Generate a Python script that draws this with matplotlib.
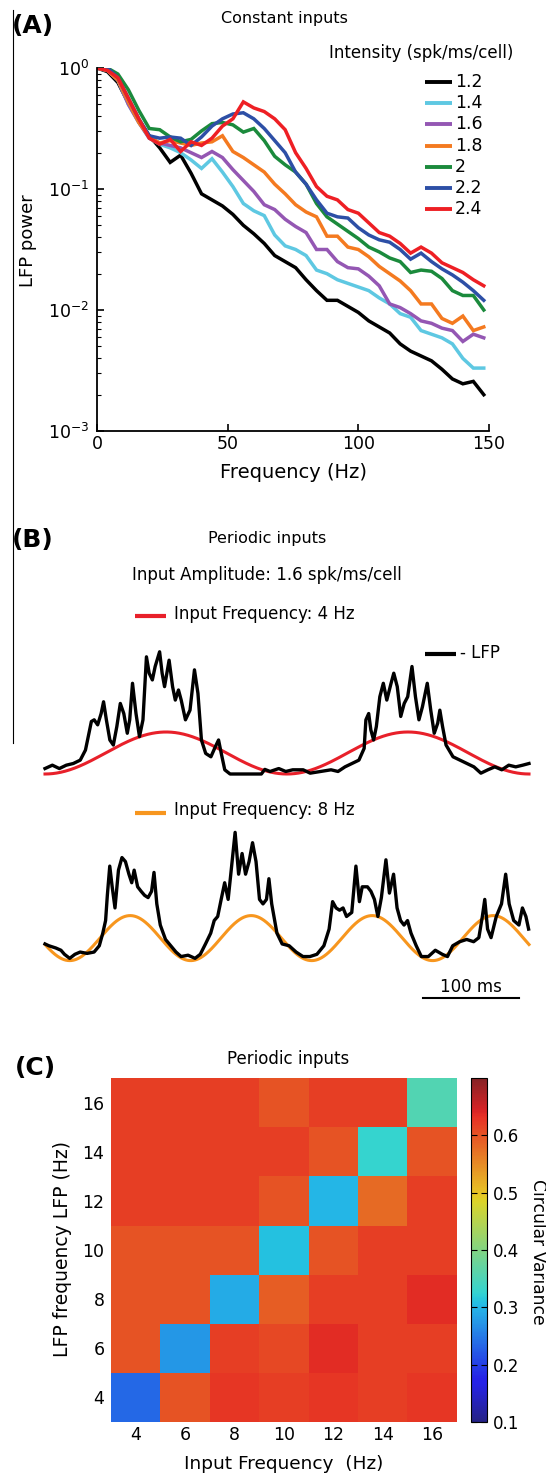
import numpy as np
import matplotlib
matplotlib.use("Agg")
import matplotlib.pyplot as plt
from matplotlib.lines import Line2D
from matplotlib.colors import ListedColormap

plt.rcParams['font.family'] = ['DejaVu Sans']
plt.rcParams['mathtext.fontset'] = 'dejavusans'

# ---------------- data ----------------
# (A) LFP power spectrum for constant inputs, log10 of normalised power
freq_hz = np.arange(0, 149, 4)
intensities = ['1.2', '1.4', '1.6', '1.8', '2', '2.2', '2.4']
spec_colors = ['#000000', '#5ec8e2', '#9457b3', '#f47a20', '#1b8a3c', '#2d4fa6', '#ee1f24']

logp_12 = [0.0, -0.03, -0.12, -0.29, -0.43, -0.56, -0.66, -0.78, -0.72, -0.87,
           -1.04, -1.09, -1.14, -1.21, -1.30, -1.37, -1.45, -1.55, -1.60, -1.65,
           -1.75, -1.84, -1.92, -1.92, -1.97, -2.02, -2.09, -2.14, -2.19, -2.28,
           -2.34, -2.38, -2.42, -2.49, -2.57, -2.61, -2.59, -2.70]
logp_14 = [0.0, -0.02, -0.10, -0.30, -0.45, -0.58, -0.63, -0.66, -0.70, -0.76,
           -0.83, -0.75, -0.86, -0.98, -1.12, -1.18, -1.22, -1.38, -1.47, -1.50,
           -1.55, -1.67, -1.70, -1.75, -1.78, -1.81, -1.84, -1.90, -1.95, -2.03,
           -2.06, -2.17, -2.20, -2.23, -2.28, -2.40, -2.48, -2.48]
logp_16 = [0.0, -0.02, -0.10, -0.30, -0.45, -0.58, -0.62, -0.64, -0.66, -0.70,
           -0.74, -0.69, -0.74, -0.84, -0.93, -1.02, -1.13, -1.17, -1.25, -1.31,
           -1.36, -1.50, -1.50, -1.60, -1.65, -1.66, -1.72, -1.80, -1.95, -1.98,
           -2.03, -2.09, -2.11, -2.15, -2.17, -2.26, -2.20, -2.23]
logp_18 = [0.0, -0.02, -0.10, -0.28, -0.45, -0.57, -0.62, -0.60, -0.62, -0.64,
           -0.62, -0.61, -0.56, -0.69, -0.74, -0.80, -0.86, -0.96, -1.04, -1.13,
           -1.19, -1.23, -1.39, -1.39, -1.48, -1.50, -1.56, -1.64, -1.70, -1.76,
           -1.84, -1.95, -1.95, -2.07, -2.11, -2.05, -2.17, -2.14]
logp_20 = [0.0, 0.0, -0.05, -0.18, -0.35, -0.50, -0.51, -0.57, -0.61, -0.59,
           -0.52, -0.46, -0.45, -0.47, -0.53, -0.50, -0.60, -0.73, -0.80, -0.86,
           -0.96, -1.12, -1.23, -1.29, -1.35, -1.41, -1.48, -1.52, -1.57, -1.60,
           -1.69, -1.67, -1.68, -1.74, -1.84, -1.88, -1.88, -2.00]
logp_22 = [0.0, 0.0, -0.08, -0.25, -0.42, -0.56, -0.58, -0.57, -0.58, -0.64,
           -0.57, -0.48, -0.42, -0.38, -0.37, -0.42, -0.50, -0.60, -0.70, -0.86,
           -0.96, -1.09, -1.20, -1.23, -1.24, -1.32, -1.38, -1.42, -1.44, -1.50,
           -1.58, -1.53, -1.60, -1.66, -1.71, -1.77, -1.84, -1.92]
logp_24 = [0.0, -0.02, -0.08, -0.25, -0.42, -0.58, -0.63, -0.59, -0.69, -0.61,
           -0.64, -0.58, -0.48, -0.42, -0.28, -0.33, -0.36, -0.42, -0.51, -0.70,
           -0.83, -0.98, -1.06, -1.09, -1.17, -1.20, -1.28, -1.36, -1.39, -1.45,
           -1.53, -1.48, -1.53, -1.61, -1.65, -1.69, -1.75, -1.80]
spectra = [logp_12, logp_14, logp_16, logp_18, logp_20, logp_22, logp_24]

# (B) LFP traces (time in ms, amplitude in units of the input peak)
lfp_4hz = [(0, 0.13), (7.6, 0.21), (14.8, 0.13), (22, 0.21), (29.2, 0.25), (36.4, 0.33),
           (41.8, 0.57), (45.4, 0.97), (47.9, 1.25), (50.8, 1.29), (54.4, 1.17), (58.0, 1.44),
           (60.5, 1.72), (63.4, 1.29), (67.0, 0.81), (70.6, 0.69), (74.2, 1.13), (77.8, 1.68),
           (81.4, 1.44), (85.0, 0.97), (87.5, 1.29), (90.4, 2.16), (94.0, 1.44), (97.6, 0.89),
           (101.2, 1.29), (104.8, 2.79), (107.6, 2.40), (110.9, 2.24), (113.8, 2.56), (118.4, 2.91),
           (121.0, 2.40), (123.5, 2.08), (128.2, 2.71), (131.8, 2.08), (134.6, 1.76), (137.9, 2.00),
           (140.7, 1.76), (145.1, 1.29), (149.8, 1.52), (154.4, 2.48), (158.0, 1.92), (161.6, 0.81),
           (166.0, 0.49), (171.4, 0.41), (176.0, 0.65), (179.3, 0.81), (182.1, 0.49), (185.7, 0.10),
           (191.2, 0.0), (205.5, 0.0), (223.5, 0.0), (227.1, 0.11), (232.5, 0.06), (241.5, 0.13),
           (248.7, 0.06), (255.9, 0.10), (266.7, 0.10), (273.9, 0.02), (284.7, 0.06), (295.5, 0.10),
           (302.7, 0.06), (309.9, 0.17), (317.1, 0.25), (324.3, 0.33), (329.7, 0.61), (331.5, 1.29),
           (334.4, 1.44), (336.6, 1.05), (339.5, 0.81), (342.3, 1.13), (345.9, 1.84), (349.5, 2.16),
           (353.1, 1.76), (357.5, 2.16), (360.3, 2.40), (363.9, 2.08), (367.5, 1.37), (371.1, 1.68),
           (374.7, 1.84), (379.1, 2.56), (382.7, 1.84), (386.3, 1.29), (389.9, 1.60), (394.9, 2.16),
           (398.5, 1.52), (402.1, 0.97), (405.7, 1.21), (407.9, 1.52), (410.7, 1.13), (414.3, 0.69),
           (421.5, 0.41), (428.7, 0.33), (435.9, 0.25), (443.1, 0.17), (450.3, 0.02), (457.5, 0.10),
           (464.7, 0.17), (471.9, 0.10), (479.1, 0.21), (486.3, 0.17), (493.5, 0.21), (500, 0.25)]
lfp_8hz = [(0, 0.37), (4.0, 0.33), (11.2, 0.28), (16.5, 0.23), (20.1, 0.14), (25.5, 0.05),
           (30.9, 0.14), (36.3, 0.19), (43.5, 0.16), (50.7, 0.19), (56.1, 0.33), (59.7, 0.61),
           (62.6, 0.89), (64.4, 1.45), (66.9, 2.10), (69.4, 1.64), (72.3, 1.17), (75.9, 2.01),
           (79.5, 2.29), (83.1, 2.20), (86.7, 1.92), (89.6, 1.73), (92.1, 2.01), (95.7, 1.64),
           (99.3, 1.54), (102.9, 1.45), (106.5, 1.40), (110.1, 1.54), (112.6, 1.96), (115.5, 1.26),
           (119.1, 0.79), (124.5, 0.47), (129.9, 0.33), (135.3, 0.19), (140.6, 0.09), (147.8, 0.12),
           (155.0, 0.05), (160.4, 0.14), (165.8, 0.37), (171.2, 0.61), (174.8, 0.89), (178.4, 0.98),
           (182.0, 1.36), (185.6, 1.73), (189.2, 1.36), (192.8, 2.10), (196.4, 2.85), (200.0, 1.92),
           (203.6, 2.38), (207.2, 1.92), (210.8, 2.20), (214.4, 2.62), (218.0, 2.20), (221.6, 1.36),
           (225.2, 1.26), (228.8, 1.36), (231.3, 1.82), (234.2, 1.26), (239.6, 0.61), (245.0, 0.37),
           (252.2, 0.33), (259.4, 0.19), (266.5, 0.09), (273.7, 0.09), (280.9, 0.14), (288.1, 0.33),
           (293.5, 0.70), (297.1, 1.31), (300.7, 1.17), (304.3, 1.12), (307.9, 1.17), (311.5, 0.98),
           (316.9, 1.07), (321.2, 2.10), (324.8, 1.31), (327.7, 1.64), (333.1, 1.64), (336.7, 1.54),
           (340.3, 1.36), (343.9, 0.98), (347.5, 1.40), (352.2, 2.24), (355.8, 1.50), (360.1, 1.92),
           (363.7, 1.17), (367.3, 0.89), (370.9, 0.79), (374.5, 0.89), (378.1, 0.61), (383.5, 0.33),
           (388.8, 0.09), (396.0, 0.09), (403.2, 0.23), (410.4, 0.14), (415.8, 0.09), (421.2, 0.33),
           (428.4, 0.42), (435.6, 0.47), (442.8, 0.42), (448.2, 0.51), (451.8, 0.98), (454.3, 1.36),
           (457.2, 0.70), (460.8, 0.51), (466.2, 0.98), (471.6, 1.26), (475.9, 1.92), (479.5, 1.26),
           (484.2, 0.89), (489.6, 0.79), (493.2, 1.17), (496.8, 0.98), (499.6, 0.70)]
input_freqs = [4, 8]            # Hz
input_trough_ms = [0.0, 25.5]   # first trough of the input rate
input_colors = ['#e8202a', '#f7961e']
duration_ms = 500

# (C) circular variance, rows = LFP frequency 4..16, cols = input frequency 4..16
in_freqs = [4, 6, 8, 10, 12, 14, 16]
lfp_freqs = [4, 6, 8, 10, 12, 14, 16]
circ_var = [[0.235, 0.60, 0.625, 0.62, 0.625, 0.62, 0.625],
            [0.60, 0.275, 0.62, 0.61, 0.635, 0.62, 0.62],
            [0.60, 0.60, 0.29, 0.59, 0.62, 0.62, 0.635],
            [0.60, 0.60, 0.60, 0.31, 0.60, 0.62, 0.62],
            [0.62, 0.62, 0.62, 0.60, 0.30, 0.58, 0.62],
            [0.62, 0.62, 0.62, 0.62, 0.60, 0.325, 0.60],
            [0.62, 0.62, 0.62, 0.60, 0.62, 0.62, 0.355]]

# ---------------- figure ----------------
W, H = 546, 1478
fig = plt.figure(figsize=(W / 100, H / 100), dpi=100)


def fx(px):
    return px / W


def fy(py):
    return 1 - py / H


def fig_line(x0, x1, y, color, lw):
    fig.add_artist(Line2D([fx(x0), fx(x1)], [fy(y), fy(y)], color=color, lw=lw,
                          transform=fig.transFigure, solid_capstyle='butt'))


# stray border line on the left of the original scan
fig.add_artist(Line2D([fx(12.5), fx(12.5)], [fy(10), fy(743)], color='black', lw=0.8,
                      transform=fig.transFigure))

# ---- (A)
axA = fig.add_axes([fx(97), fy(431), (489 - 97) / W, (431 - 68) / H])
for vals, col in zip(spectra, spec_colors):
    axA.plot(freq_hz, 10 ** np.array(vals), color=col, lw=2.5, solid_joinstyle='miter')
axA.set_yscale('log')
axA.set_xlim(0, 150)
axA.set_ylim(1e-3, 1)
axA.set_xticks([0, 50, 100, 150])
for s in ['top', 'right']:
    axA.spines[s].set_visible(False)
for s in ['left', 'bottom']:
    axA.spines[s].set_linewidth(1.3)
axA.tick_params(which='major', direction='in', length=5, width=1.2, labelsize=12.5)
axA.tick_params(axis='x', pad=3)
axA.tick_params(axis='y', pad=5.5)
axA.tick_params(axis='y', which='minor', direction='in', length=3, width=0.8)
axA.set_xlabel('Frequency (Hz)', fontsize=14)
axA.xaxis.label.set_va('center')
axA.xaxis.set_label_coords(0.5, (431 - 473) / 363)
axA.set_ylabel('LFP power', fontsize=13)
axA.yaxis.label.set_va('center')
axA.yaxis.set_label_coords((28 - 97) / 392, (431 - 241) / 363)

fig.text(fx(33), fy(26), '(A)', fontsize=18, fontweight='bold', ha='center', va='center')
fig.text(fx(284), fy(18), 'Constant inputs', fontsize=11.5, ha='center', va='center')
fig.text(fx(421), fy(53), 'Intensity (spk/ms/cell)', fontsize=12, ha='center', va='center')
for i, (lab, col) in enumerate(zip(intensities, spec_colors)):
    y = 82 + 21.2 * i
    fig_line(425, 452, y, col, 2.8)
    fig.text(fx(455), fy(y), lab, fontsize=12.5, ha='left', va='center')

# ---- (B)
fig.text(fx(33), fy(540), '(B)', fontsize=18, fontweight='bold', ha='center', va='center')
fig.text(fx(267), fy(538), 'Periodic inputs', fontsize=11.5, ha='center', va='center')
fig.text(fx(267), fy(575), 'Input Amplitude: 1.6 spk/ms/cell', fontsize=12, ha='center', va='center')

trace_boxes = [(780.3, 132.3), (967.35, 141.75)]
lfp_traces = [lfp_4hz, lfp_8hz]
t = np.linspace(0, duration_ms, 1000)
trace_axes = []
for (bot, hgt), f, t0, col, tr in zip(trace_boxes, input_freqs, input_trough_ms, input_colors, lfp_traces):
    ax = fig.add_axes([fx(45), fy(bot), 484 / W, hgt / H])
    rate = 0.5 * (1 - np.cos(2 * np.pi * f * (t - t0) / 1000))
    ax.plot(t, rate, color=col, lw=2.2, clip_on=False)
    tt, uu = zip(*tr)
    ax.plot(tt, uu, color='black', lw=2.4, clip_on=False)
    ax.set_xlim(0, duration_ms)
    ax.set_ylim(-0.15, 3.0)
    ax.axis('off')
    trace_axes.append(ax)

fig_line(135, 166, 615.7, input_colors[0], 3.0)
fig.text(fx(174), fy(614), 'Input Frequency: 4 Hz', fontsize=12, ha='left', va='center')
fig_line(425, 456, 654, 'black', 3.0)
fig.text(fx(460), fy(653), '- LFP', fontsize=12, ha='left', va='center')
fig_line(135, 166, 813, input_colors[1], 3.0)
fig.text(fx(174), fy(810), 'Input Frequency: 8 Hz', fontsize=12, ha='left', va='center')

ax2 = trace_axes[1]
ax2.plot([390, 490], [(960.6 - 998) / 45] * 2, color='black', lw=1.5, clip_on=False)
ax2.text(440, (960.6 - 987) / 45, '100 ms', fontsize=12, ha='center', va='center')

# ---- (C)
jet = plt.get_cmap('jet')(np.linspace(0, 1, 256))
soft = jet.copy()
soft[:, :3] = jet[:, :3] * 0.76 + 0.24 * 0.6
soft[:, 1] = soft[:, 1] * 0.92
cmap = ListedColormap(soft)

axC = fig.add_axes([fx(111), fy(1422), 346 / W, 344 / H])
cax = fig.add_axes([fx(471), fy(1422), 16 / W, 344 / H])
im = axC.imshow(np.array(circ_var), origin='lower', cmap=cmap, vmin=0.1, vmax=0.7,
                extent=[3, 17, 3, 17], aspect='auto', interpolation='nearest')
axC.set_xticks(in_freqs)
axC.set_yticks(lfp_freqs)
axC.tick_params(length=0, labelsize=12.5)
axC.tick_params(axis='x', pad=2.7)
axC.tick_params(axis='y', pad=4.7)
for s in axC.spines.values():
    s.set_visible(False)
axC.set_xlabel('Input Frequency  (Hz)', fontsize=13.3)
axC.xaxis.label.set_va('center')
axC.xaxis.set_label_coords(0.5, (1422 - 1464) / 344)
axC.set_ylabel('LFP frequency LFP (Hz)', fontsize=13.5)
axC.yaxis.label.set_va('center')
axC.yaxis.set_label_coords((63 - 111) / 346, 0.503)
axC.text(0.512, 1.055, 'Periodic inputs', transform=axC.transAxes, fontsize=12,
         ha='center', va='center')
fig.text(fx(35), fy(1068), '(C)', fontsize=18, fontweight='bold', ha='center', va='center')

cb = fig.colorbar(im, cax=cax)
cb.set_ticks([0.1, 0.2, 0.3, 0.4, 0.5, 0.6])
cb.outline.set_linewidth(0.8)
cax.tick_params(direction='in', length=4, width=0.8, left=True, right=True, labelsize=12, pad=4)
cax.text(4.19, 0.494, 'Circular Variance', transform=cax.transAxes, rotation=270,
         fontsize=12.3, ha='center', va='center')

fig.savefig('out.png', dpi=100)
